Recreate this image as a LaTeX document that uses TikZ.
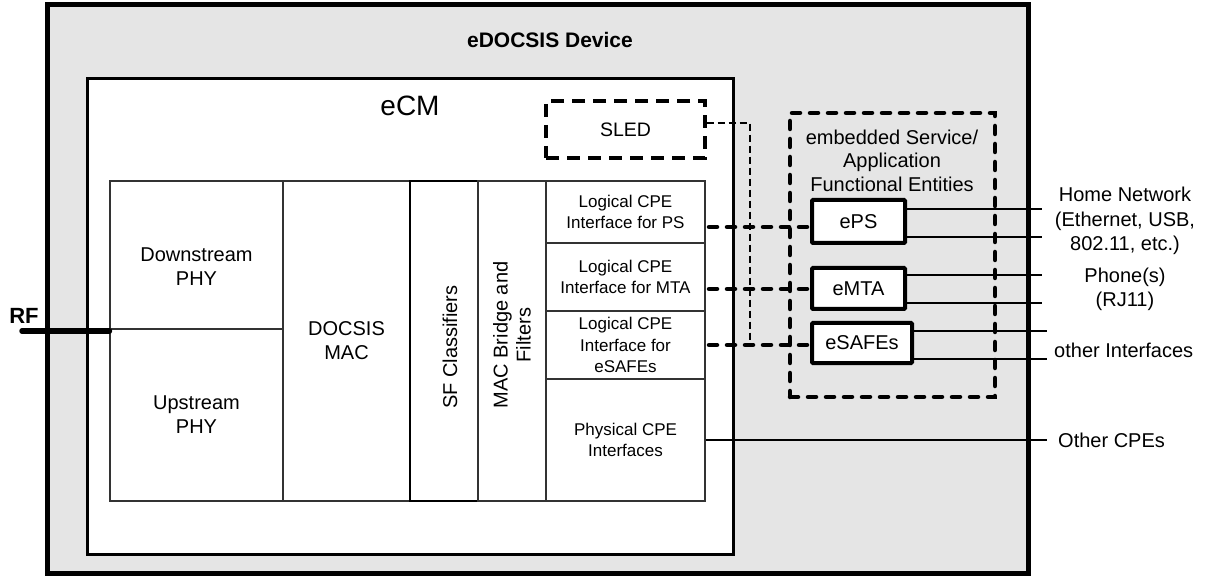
\documentclass[tikz,border=0pt]{standalone}
\usepackage{fontspec}
\setmainfont{Liberation Sans}
\newcommand\fsz[2]{\fontsize{#1}{#2}\selectfont}
\begin{document}
\begin{tikzpicture}[x=1pt,y=-1pt,
  blk/.style={draw=black!80, line width=1.1pt, fill=white, inner sep=0pt, align=center},
  txt/.style={inner sep=0pt, align=center},
  ebox/.style={draw, line width=4pt, fill=white, inner sep=0pt, align=center, rounded corners=1pt, font=\fsz{20}{23}},
  thickdash/.style={line width=4.5pt, line cap=round, dash pattern=on 8pt off 10pt},
  thindash/.style={line width=2.2pt, dash pattern=on 7pt off 4pt},
  solidln/.style={line width=2.6pt}
]
\useasboundingbox (0,0) rectangle (1205,577);
% outer device
\draw[line width=5pt, fill=black!10] (47,5) rectangle (1028,573);
\node[txt, font=\bfseries\fsz{21}{24}] (devt) at (550,40) {eDOCSIS Device};
% eCM
\draw[line width=3pt, fill=white] (87,79) rectangle (733,554);
\node[txt, font=\fsz{28}{32}] (ecmt) at (410,106) {eCM};
% SLED
\node[draw, line width=3.2pt, dash pattern=on 13pt off 8pt, minimum width=159pt, minimum height=57pt, inner sep=0pt, font=\fsz{19.5}{23}] (sled) at (625.5,129.5) {SLED};
% PHY blocks
\node[blk, minimum width=173pt, minimum height=148pt] (ds) at (196.5,255) {};
\node[txt, font=\fsz{20}{24}] (dst) at (196.5,267) {Downstream\\PHY};
\node[blk, minimum width=173pt, minimum height=172pt] (us) at (196.5,415) {};
\node[txt, font=\fsz{20}{24}] (ust) at (196.5,415) {Upstream\\PHY};
\node[blk, minimum width=127pt, minimum height=320pt, font=\fsz{20}{24}] (mac) at (346.5,341) {DOCSIS\\MAC};
\node[blk, line width=1.8pt, draw=black, minimum width=68pt, minimum height=320pt] (sf) at (444,341) {};
\node[txt, rotate=90, font=\fsz{20}{23}] (sft) at (450,347) {SF Classifiers};
\node[blk, minimum width=68pt, minimum height=320pt] (mb) at (512,341) {};
\node[txt, rotate=90, font=\fsz{20}{23}] (mbt) at (512,335) {MAC Bridge and\\Filters};
% logical CPE
\node[blk, minimum width=159pt, minimum height=62pt, font=\fsz{17}{20.5}] (lps) at (625.5,212) {Logical CPE\\Interface for PS};
\node[blk, minimum width=159pt, minimum height=68pt, font=\fsz{17}{20.5}] (lmta) at (625.5,277) {Logical CPE\\Interface for MTA};
\node[blk, minimum width=159pt, minimum height=68pt, font=\fsz{17}{21.5}] (lsafe) at (625.5,345) {Logical CPE\\Interface for\\eSAFEs};
\node[blk, minimum width=159pt, minimum height=122pt, font=\fsz{17}{21}] (phys) at (625.5,440) {Physical CPE\\Interfaces};
% embedded entities box
\node[draw, line width=4.5pt, line cap=round, dash pattern=on 8pt off 10pt, minimum width=205pt, minimum height=284pt, inner sep=0pt] (esa) at (892.5,255) {};
\node[txt, font=\fsz{20}{23.5}] (esat) at (892,160.5) {embedded Service/\\Application\\Functional Entities};
\node[ebox, minimum width=93pt, minimum height=43pt] (eps) at (858.5,221.5) {ePS};
\node[ebox, minimum width=93pt, minimum height=41pt] (emta) at (858.5,288.5) {eMTA};
\node[ebox, minimum width=100pt, minimum height=40pt] (esafe) at (862,343) {eSAFEs};
% right side lines
\coordinate (h1) at (1042,209);
\coordinate (h2) at (1042,237);
\coordinate (p1) at (1042,275);
\coordinate (p2) at (1042,303);
\coordinate (o1) at (1047,331);
\coordinate (o2) at (1047,359);
\coordinate (c5) at (1047,440);
\draw[solidln] (eps.east |- h1) -- (h1);
\draw[solidln] (eps.east |- h2) -- (h2);
\draw[solidln] (emta.east |- p1) -- (p1);
\draw[solidln] (emta.east |- p2) -- (p2);
\draw[solidln] (esafe.east |- o1) -- (o1);
\draw[solidln] (esafe.east |- o2) -- (o2);
\draw[solidln] (phys.east |- c5) -- (c5);
% labels right
\node[txt, font=\fsz{20}{24.5}] (hn) at (1125,221) {Home Network\\(Ethernet, USB,\\802.11, etc.)};
\node[txt, font=\fsz{20}{24.5}] (ph) at (1125,289.5) {Phone(s)\\(RJ11)};
\node[txt, font=\fsz{20}{24}, anchor=west] (oi) at (1054,350) {other Interfaces};
\node[txt, font=\fsz{20}{24}, anchor=west] (oc) at (1058,440) {Other CPEs};
% dashed connectors
\coordinate (d1) at (709,227);
\coordinate (d2) at (709,289);
\coordinate (d3) at (709,345);
\draw[thickdash] (d1) -- ([xshift=-2pt]eps.west |- d1);
\draw[thickdash] (d2) -- ([xshift=-2pt]emta.west |- d2);
\draw[thickdash] (d3) -- ([xshift=-2pt]esafe.west |- d3);
\coordinate (sl) at (750,123);
\coordinate (sl2) at (750,345);
\draw[thindash] (sled.east |- sl) -- (sl) -- (sl2);
% RF
\node[txt, font=\bfseries\fsz{22}{26}] (rft) at (24,316) {RF};
\coordinate (rf) at (22,331);
\draw[line width=5.5pt, line cap=round] (rf) -- (rf -| us.west);
\end{tikzpicture}
\end{document}
